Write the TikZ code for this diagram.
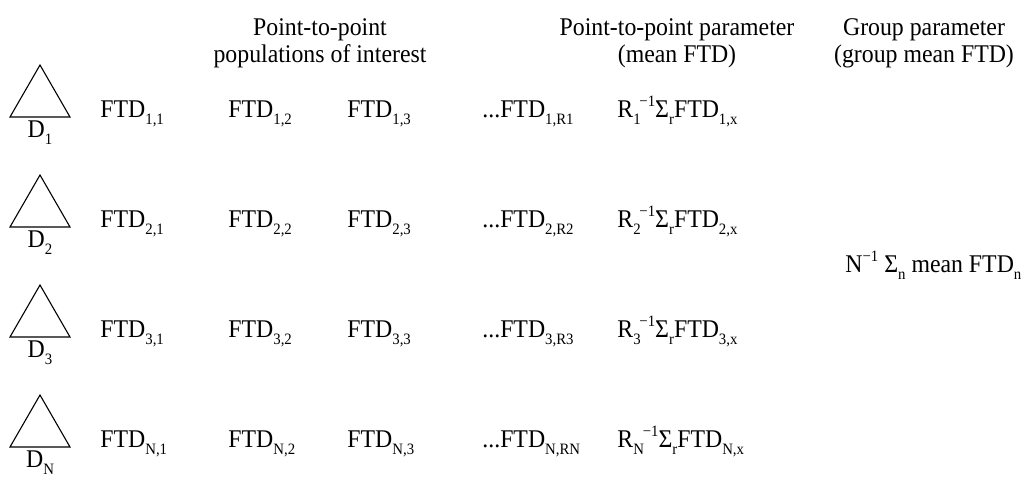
\documentclass[tikz,border=0pt]{standalone}
\usepackage{fontspec}
\usepackage{graphicx}
\setmainfont{Liberation Serif}
\newcommand\St[1]{\scalebox{1}[1.07]{#1}}
\newcommand\lo[1]{\raisebox{-0.3em}{\fontsize{7.4}{8}\selectfont #1}}
\newcommand\hi[1]{\raisebox{0.42em}{\fontsize{7.4}{8}\selectfont #1}}
\tikzset{
  txt/.style={inner sep=0pt, anchor=base west, font=\fontsize{11.9}{12}\selectfont},
  hd/.style={inner sep=0pt, anchor=base, font=\fontsize{11.9}{12}\selectfont},
  tri/.style={draw=black, line width=0.55pt, line join=miter},
}
\begin{document}
\begin{tikzpicture}[x=0.5pt, y=-0.5pt]
\useasboundingbox (0,0) rectangle (1021,478);
% headers
\node[hd] (hA1) at (320,35) {\St{Point-to-point}};
\node[hd] (hA2) at (320,62) {\St{populations of interest}};
\node[hd] (hB1) at (677,35) {\St{Point-to-point parameter}};
\node[hd] (hB2) at (677,62) {\St{(mean FTD)}};
\node[hd] (hC1) at (924,35) {\St{Group parameter}};
\node[hd] (hC2) at (924,62) {\St{(group mean FTD)}};
% rows
\foreach \r/\yy/\lab/\last in {1/117/1/1,2/227/2/2,3/337/3/3,4/447/N/N}{
  \draw[tri] (10,\yy) -- (40,\yy-52) -- (70,\yy) -- cycle;
  \node[hd] (D\r) at (40,\yy+20) {\St{D\lo{\lab}}};
  \node[txt] (F\r a) at (100,\yy) {\St{FTD\lo{\lab,1}}};
  \node[txt] (F\r b) at (228,\yy) {\St{FTD\lo{\lab,2}}};
  \node[txt] (F\r c) at (347,\yy) {\St{FTD\lo{\lab,3}}};
  \node[txt] (F\r d) at (482,\yy) {\St{...FTD\lo{\lab,R\last}}};
  \node[txt] (M\r) at (617,\yy) {\St{R\lo{\lab}\kern-0.05em\hi{−1}Σ\lo{r}FTD\lo{\lab,x}}};
}
\node[txt] (G) at (845,272) {\St{N\hi{−1} Σ\lo{n} mean FTD\lo{n}}};
\end{tikzpicture}
\end{document}
